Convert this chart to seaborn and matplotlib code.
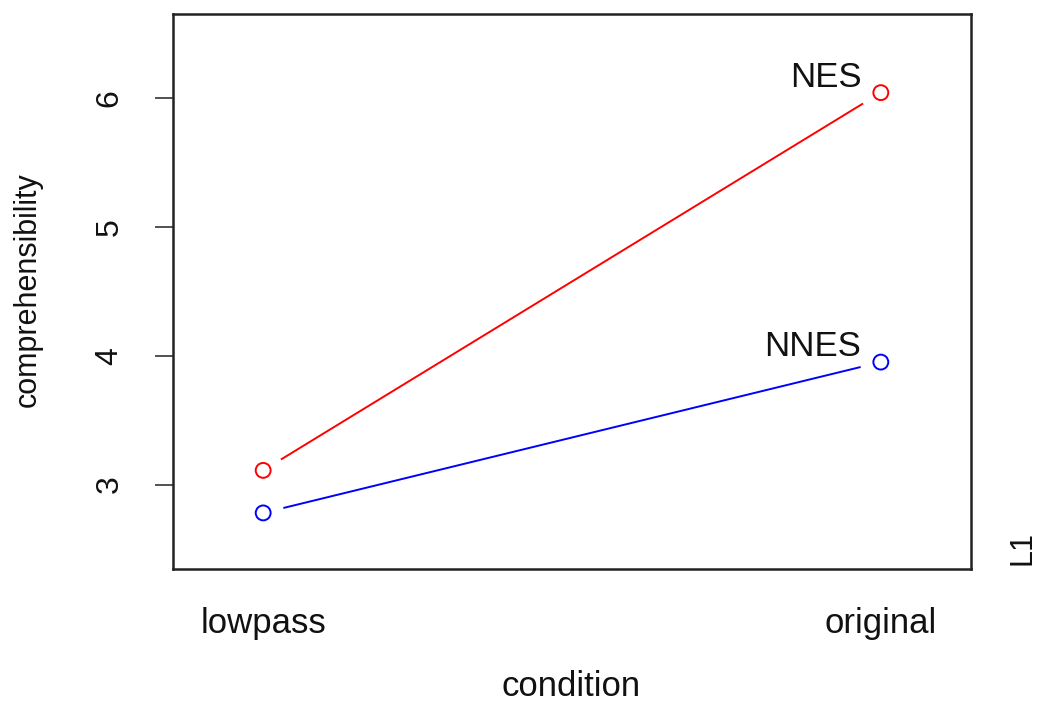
import matplotlib
matplotlib.use("Agg")
import matplotlib.pyplot as plt
import seaborn as sns
import pandas as pd

conditions = ["lowpass", "original"]
groups = ["NES", "NNES"]
nes_values = [3.11, 6.04]
nnes_values = [2.78, 3.95]
group_colors = {"NES": "#ff0000", "NNES": "#0000ff"}
y_ticks = [3, 4, 5, 6]

rows = []
for g, vals in zip(groups, [nes_values, nnes_values]):
    for i, (c, v) in enumerate(zip(conditions, vals)):
        rows.append({"condition": c, "pos": i, "L1": g, "comprehensibility": v})
df = pd.DataFrame(rows)

sns.set_theme(style="white")
plt.rcParams["font.family"] = ["Liberation Sans", "DejaVu Sans"]

fig = plt.figure(figsize=(10.5, 7.04), dpi=100)
ax = fig.add_axes([173 / 1050, 1 - 569 / 704, (971 - 173) / 1050, (569 - 14) / 704])

sns.lineplot(data=df, x="pos", y="comprehensibility", hue="L1", palette=group_colors,
             linewidth=1.4, legend=False, ax=ax, zorder=2)
# white gaps around points (R type="b")
sns.scatterplot(data=df, x="pos", y="comprehensibility", color="white", s=900,
                edgecolor="none", legend=False, ax=ax, zorder=3)
sns.scatterplot(data=df, x="pos", y="comprehensibility", hue="L1", palette=group_colors,
                s=115, marker="o", linewidth=1.4, legend=False, ax=ax, zorder=4)
for coll in ax.collections[-1:]:
    fc = coll.get_facecolors()
    coll.set_edgecolors(fc)
    coll.set_facecolors("none")

for g, vals in zip(groups, [nes_values, nnes_values]):
    ax.annotate(g, xy=(1, vals[-1]), xytext=(-14, 11), textcoords="offset points",
                ha="right", va="center", fontsize=25, color="#111111")

ax.set_xlim(-0.146, 1.146)
ax.set_ylim(2.345, 6.65)
ax.set_xticks([0, 1])
ax.set_xticklabels(conditions)
ax.set_yticks(y_ticks)
ax.set_yticklabels([str(t) for t in y_ticks], rotation=90, va="center")
ax.tick_params(axis="x", length=0, pad=27, labelsize=25, colors="#111111")
ax.tick_params(axis="y", left=True, length=13, width=1.2, color="#333333", pad=22,
               labelsize=23, labelcolor="#111111")

for s in ax.spines.values():
    s.set_visible(True)
    s.set_color("#222222")
    s.set_linewidth(1.8)

ax.set_xlabel("condition", fontsize=25, color="#111111", va="center")
ax.xaxis.set_label_coords(0.499, -0.212)
ax.set_ylabel("comprehensibility", fontsize=22, color="#111111", va="center")
ax.yaxis.set_label_coords(-0.182, 0.504)

ax.text(1.065, 0.038, "L1", transform=ax.transAxes, rotation=90, ha="center", va="center",
        fontsize=22, color="#111111")

fig.savefig("out.png", dpi=100, facecolor="white")
